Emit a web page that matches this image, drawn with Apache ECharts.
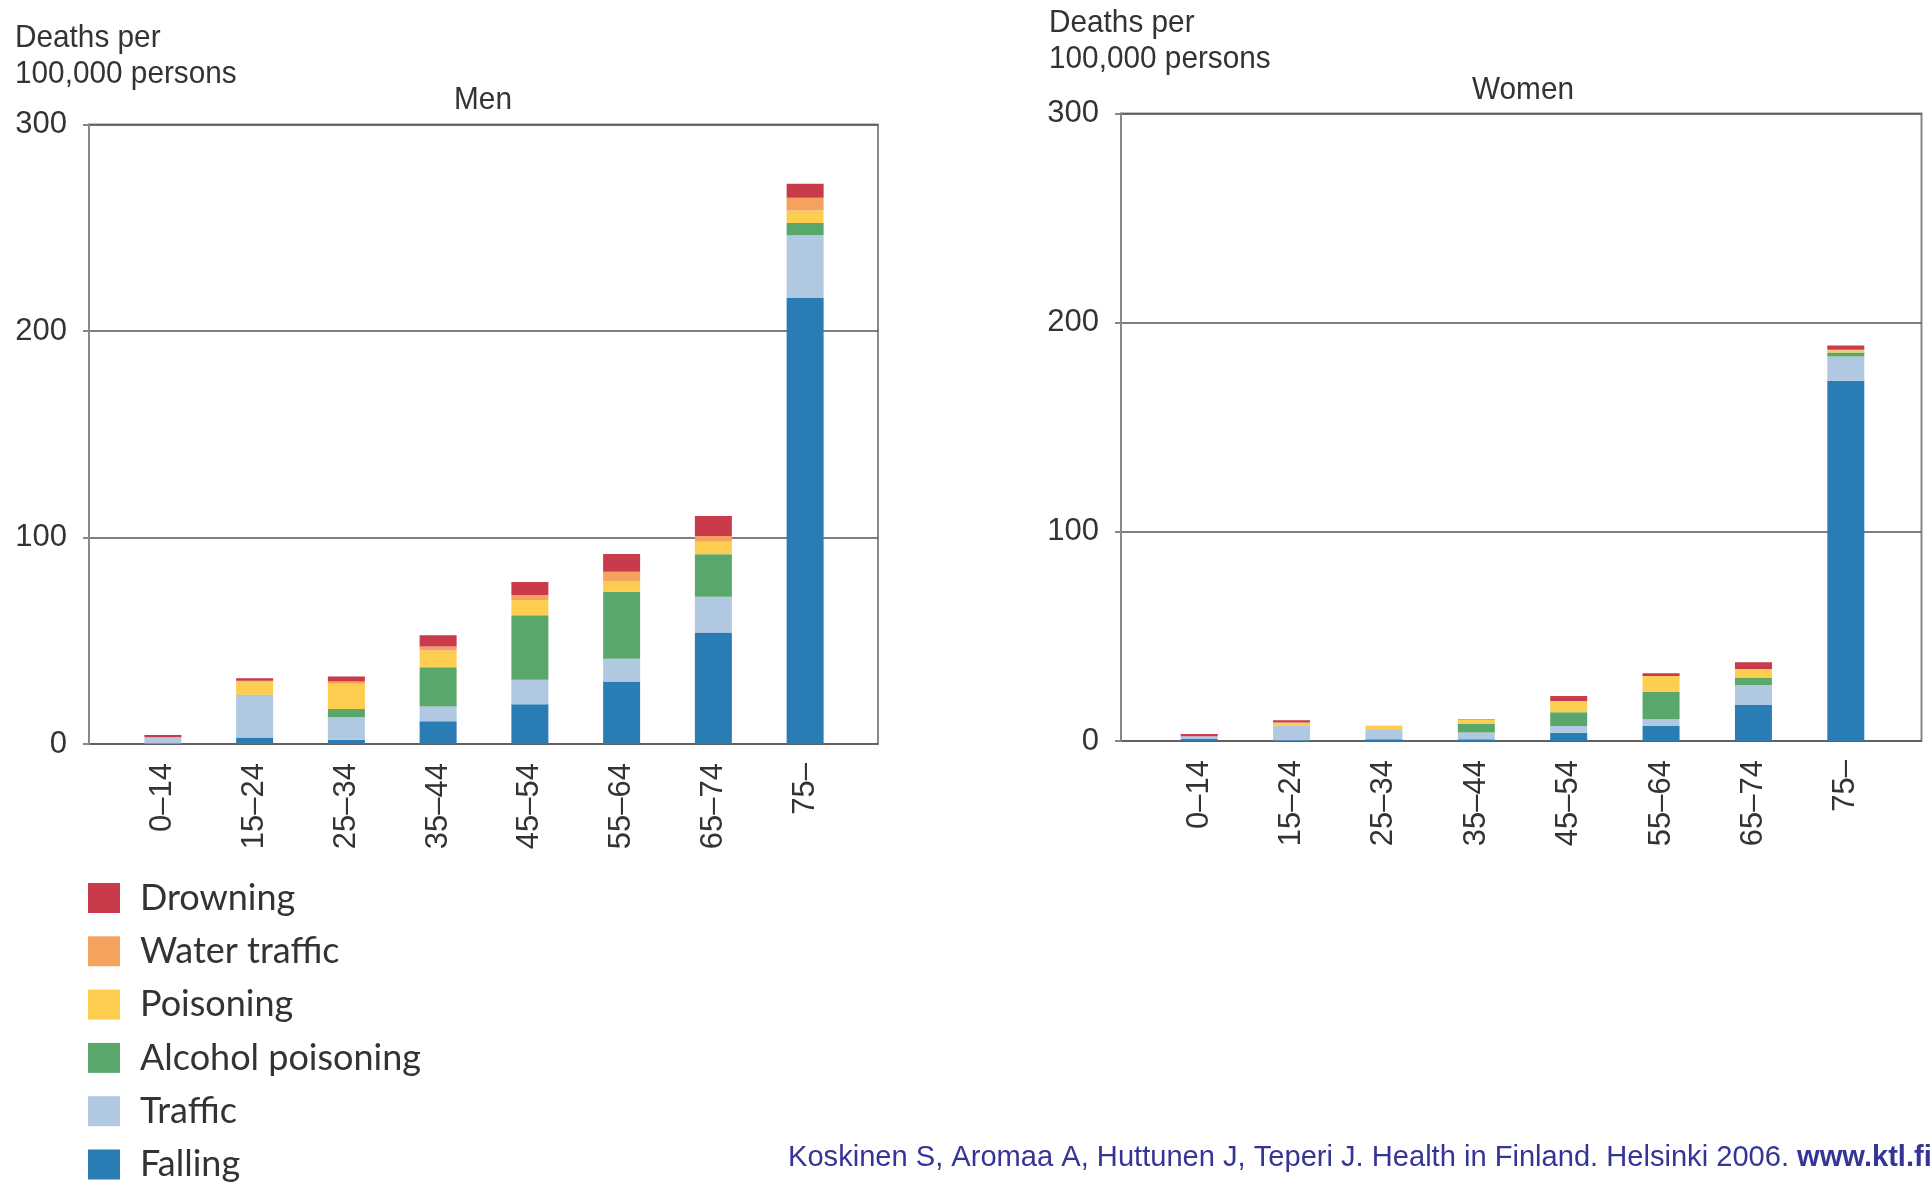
<!DOCTYPE html>
<html>
<head>
<meta charset="utf-8">
<script src="https://cdn.jsdelivr.net/npm/echarts@6/dist/echarts.min.js"></script>
<style>
html,body{margin:0;padding:0;background:#fff;}
#chart{width:1930px;height:1184px;}
</style>
</head>
<body>
<div id="chart"></div>
<script>
// ---- data ----
var categories = ['0–14','15–24','25–34','35–44','45–54','55–64','65–74','75–'];
var yTicks = [0, 100, 200, 300];
var causes = ['Drowning','Water traffic','Poisoning','Alcohol poisoning','Traffic','Falling'];

var menFalling     = [0.3, 3.1, 2.1, 11.0, 19.3, 30.3, 54.0, 216.0];
var menTraffic     = [3.0, 20.5, 10.9, 7.1, 11.8, 11.0, 17.3, 30.4];
var menAlcohol     = [0, 0.3, 3.9, 19.1, 31.3, 32.4, 20.6, 5.9];
var menPoisoning   = [0, 6.2, 12.3, 8.1, 7.3, 5.0, 6.0, 6.1];
var menWater       = [0, 0.5, 1.1, 1.9, 2.4, 4.7, 2.8, 6.1];
var menDrowning    = [1.1, 1.2, 2.4, 5.5, 6.3, 8.6, 9.7, 6.8];

var womenFalling   = [1.0, 0.3, 0.8, 0.8, 4.0, 7.2, 17.2, 172.2];
var womenTraffic   = [1.3, 7.2, 4.5, 3.3, 3.2, 3.2, 9.6, 11.6];
var womenAlcohol   = [0, 0, 0, 4.0, 6.5, 13.2, 3.3, 1.9];
var womenPoisoning = [0, 1.3, 2.1, 1.9, 5.4, 7.5, 4.3, 1.0];
var womenWater     = [0, 0, 0, 0, 0, 0, 0, 0.4];
var womenDrowning  = [1.0, 1.1, 0, 0.3, 2.4, 1.3, 3.2, 2.0];

var colors = {
  'Drowning': '#c93a4b',
  'Water traffic': '#f5a25e',
  'Poisoning': '#fdcd4f',
  'Alcohol poisoning': '#5aa76c',
  'Traffic': '#b1c8e2',
  'Falling': '#2a7db4'
};

var chart = echarts.init(document.getElementById('chart'), null, {renderer: 'canvas'});

var FONT = 'Liberation Sans';
var TXT = '#333333';

function frameY(idx) {
  return {
    type: 'value', gridIndex: idx, min: 0, max: 300, interval: 100,
    axisLine: {show: true, lineStyle: {color: '#888888', width: 2}},
    axisTick: {show: true, length: 6, lineStyle: {color: '#888888', width: 2}},
    axisLabel: {show: true, fontSize: 31, fontFamily: FONT, color: TXT, margin: 22,
      formatter: function (v) { return yTicks.indexOf(v) >= 0 ? String(v) : ''; }},
    splitLine: {show: true, lineStyle: {color: '#555555', width: 1.5}}
  };
}
function hiddenY(idx) {
  return {type: 'value', gridIndex: idx, min: 0, max: 300, interval: 100, show: false};
}
function frameX(idx) {
  return {type: 'category', gridIndex: idx, data: categories, show: false};
}
function barX(idx) {
  return {
    type: 'category', gridIndex: idx, data: categories,
    axisLine: {show: false}, axisTick: {show: false},
    axisLabel: {rotate: 90, fontSize: 31, fontFamily: FONT, color: TXT, margin: 19, interval: 0}
  };
}

function stackSeries(prefix, xIdx, arrs) {
  var order = ['Falling','Traffic','Alcohol poisoning','Poisoning','Water traffic','Drowning'];
  return order.map(function (name, i) {
    return {
      name: name, type: 'bar', stack: prefix, xAxisIndex: xIdx, yAxisIndex: xIdx,
      data: arrs[i], barWidth: 37, itemStyle: {color: colors[name]},
      emphasis: {disabled: true}
    };
  });
}

var series = []
  .concat(stackSeries('men', 1, [menFalling, menTraffic, menAlcohol, menPoisoning, menWater, menDrowning]))
  .concat(stackSeries('women', 3, [womenFalling, womenTraffic, womenAlcohol, womenPoisoning, womenWater, womenDrowning]));

function txt(x, y, s, align) {
  return {type: 'text', x: x, y: y, scaleX: 0.93, silent: true,
    style: {text: s, fontSize: 32, fontFamily: FONT, fill: TXT,
      textAlign: align || 'left', textVerticalAlign: 'middle'}};
}

var option = {
  animation: false,
  backgroundColor: '#ffffff',
  grid: [
    {left: 89, top: 124.5, width: 789, height: 619.5, show: true, borderColor: '#888888', borderWidth: 2, containLabel: false},
    {left: 117, top: 124.5, width: 734, height: 619.5, containLabel: false},
    {left: 1121, top: 113.5, width: 800.5, height: 627.5, show: true, borderColor: '#888888', borderWidth: 2, containLabel: false},
    {left: 1153, top: 113.5, width: 739, height: 627.5, containLabel: false}
  ],
  xAxis: [frameX(0), barX(1), frameX(2), barX(3)],
  yAxis: [frameY(0), hiddenY(1), frameY(2), hiddenY(3)],
  legend: {
    data: causes, orient: 'vertical', left: 88, top: 880, padding: 0,
    itemWidth: 32, itemHeight: 30, itemGap: 17.3, icon: 'rect',
    selectedMode: false,
    textStyle: {fontSize: 36, lineHeight: 36, fontFamily: 'Lato', color: TXT, padding: [0, 0, 0, 15]}
  },
  series: series,
  graphic: [
    txt(15, 38, 'Deaths per'),
    txt(15, 74, '100,000 persons'),
    txt(483, 100, 'Men', 'center'),
    txt(1049, 23, 'Deaths per'),
    txt(1049, 59, '100,000 persons'),
    txt(1523, 90, 'Women', 'center'),
    {type: 'text', x: 788, y: 1158, silent: true,
      style: {
        text: '{n|Koskinen S, Aromaa A, Huttunen J, Teperi J. Health in Finland. Helsinki 2006. }{b|www.ktl.fi}',
        textVerticalAlign: 'middle',
        fill: '#353597',
        rich: {
          n: {fontSize: 29.1, fontFamily: 'Liberation Sans', fill: '#353597'},
          b: {fontSize: 29.1, fontFamily: 'Liberation Sans', fontWeight: 'bold', fill: '#353597'}
        }
      }}
  ]
};
chart.setOption(option);
</script>
</body>
</html>
